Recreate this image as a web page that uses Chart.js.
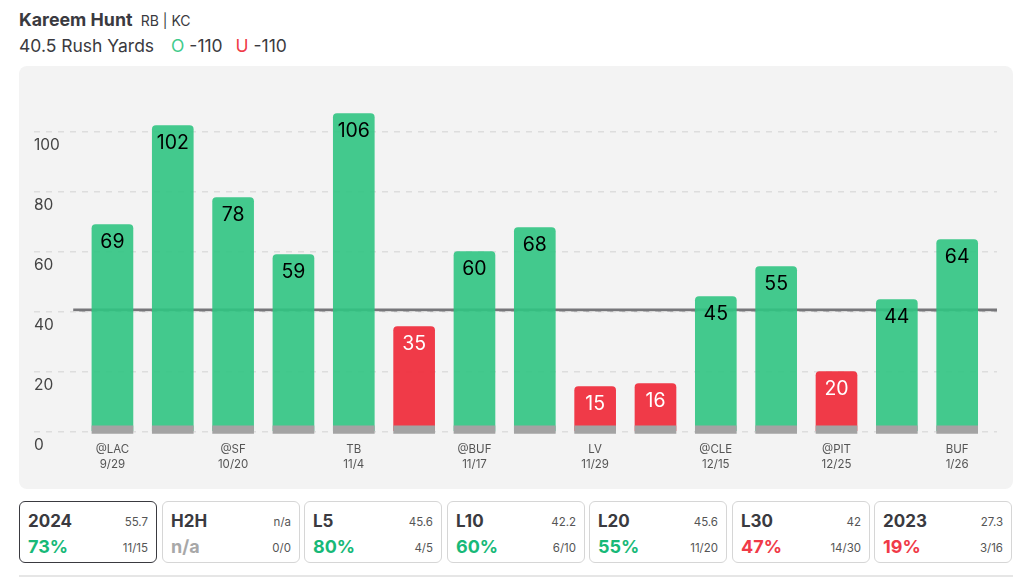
<!DOCTYPE html>
<html lang="en">
<head>
  <meta charset="UTF-8">
  <title>Kareem Hunt Rush Yards</title>
  <style>
    html, body { margin: 0; padding: 0; background: #fff; overflow: hidden; }
    body { width: 1024px; height: 588px; position: relative; font-family: Inter, sans-serif; color: #3a3a40; }
    .name { position: absolute; left: 19px; top: 10px; font-size: 17.8px; font-weight: 700; line-height: 20px; white-space: nowrap; }
    .name span { font-size: 14px; font-weight: 400; margin-left: 4px; }
    .line { position: absolute; left: 19px; top: 35px; font-size: 17.5px; line-height: 21px; white-space: nowrap; }
    .line .o { color: #3fcb8c; margin-left: 12px; }
    .line .u { color: #f03a47; margin-left: 8px; }
    .panel { position: absolute; left: 19px; top: 66px; width: 994px; height: 423px; background: #f3f3f3; border-radius: 8px; }
    .chart { position: absolute; left: 0; top: 66px; width: 1024px; height: 423px; }
    .card { position: absolute; top: 501px; height: 60px; box-sizing: content-box; border: 1.5px solid #d6d6d6; border-radius: 6px; background: #fff; }
    .card.active { border-color: #3a3a40; }
    .card div { position: absolute; white-space: nowrap; }
    .title { left: 8px; top: 8px; font-size: 17px; font-weight: 700; line-height: 22px; }
    .pct { left: 8px; top: 33px; font-size: 18px; font-weight: 700; line-height: 24px; }
    .avg { right: 8px; top: 12px; font-size: 11.5px; line-height: 16px; color: #555; }
    .rec { right: 8px; top: 38px; font-size: 11.5px; line-height: 16px; color: #555; }
    .rule { position: absolute; left: 19px; top: 575px; width: 994px; height: 1.5px; background: #e6e6e6; }
  </style>
</head>
<body>
  <div class="name">Kareem Hunt <span>RB | KC</span></div>
  <div class="line">40.5 Rush Yards <span class="o">O</span> -110 <span class="u">U</span> -110</div>
  <div class="panel"></div>
  <div class="chart"><canvas id="gameChart"></canvas></div>
  <div id="cards"></div>
  <div class="rule"></div>

  <script src="https://cdn.jsdelivr.net/npm/chart.js"></script>
  <script>
    const yards = [69, 102, 78, 59, 106, 35, 60, 68, 15, 16, 45, 55, 20, 44, 64];
    const opponents = ['@LAC', '', '@SF', '', 'TB', '', '@BUF', '', 'LV', '', '@CLE', '', '@PIT', '', 'BUF'];
    const dates = ['9/29', '', '10/20', '', '11/4', '', '11/17', '', '11/29', '', '12/15', '', '12/25', '', '1/26'];
    const yTicks = [0, 20, 40, 60, 80, 100];
    const propLine = 40.5;

    const cardTitles = ['2024', 'H2H', 'L5', 'L10', 'L20', 'L30', '2023'];
    const cardPcts = ['73%', 'n/a', '80%', '60%', '55%', '47%', '19%'];
    const cardAvgs = ['55.7', 'n/a', '45.6', '42.2', '45.6', '42', '27.3'];
    const cardRecords = ['11/15', '0/0', '4/5', '6/10', '11/20', '14/30', '3/16'];
    const cardColors = ['#17b978', '#a8a8a8', '#17b978', '#17b978', '#17b978', '#f03a47', '#f03a47'];
    const cardLefts = [19, 162, 304, 447, 589, 732, 874];

    // Stat cards under the chart
    const cardsEl = document.getElementById('cards');
    cardTitles.forEach((title, i) => {
      cardsEl.innerHTML += `
        <div class="card${i === 0 ? ' active' : ''}" style="left:${cardLefts[i]}px;width:136px">
          <div class="title">${title}</div>
          <div class="avg">${cardAvgs[i]}</div>
          <div class="pct" style="color:${cardColors[i]}">${cardPcts[i]}</div>
          <div class="rec">${cardRecords[i]}</div>
        </div>`;
    });

    // Value text inside each bar
    const barLabels = {
      id: 'barLabels',
      afterDatasetsDraw(chart) {
        const ctx = chart.ctx;
        const bars = chart.getDatasetMeta(0).data;
        ctx.save();
        ctx.font = '19.5px Inter, sans-serif';
        ctx.textAlign = 'center';
        ctx.textBaseline = 'middle';
        bars.forEach((bar, i) => {
          ctx.fillStyle = yards[i] > propLine ? '#000' : '#fff';
          ctx.fillText(yards[i], bar.x, bar.y + 18);
        });
        ctx.restore();
      }
    };

    new Chart(document.getElementById('gameChart'), {
      type: 'bar',
      data: {
        datasets: [
          {
            label: 'Rush Yards',
            data: yards.map((v, i) => ({ x: i, y: v })),
            backgroundColor: yards.map(v => v > propLine ? 'rgba(48,196,130,0.9)' : 'rgba(240,52,66,0.97)'),
            borderRadius: { topLeft: 4, topRight: 4 },
            borderSkipped: false,
            barThickness: 41,
            grouped: false,
            order: 2
          },
          {
            label: 'Base',
            data: yards.map((v, i) => ({ x: i, y: [-0.6, 1.9] })),
            backgroundColor: '#a3a3a3',
            barThickness: 41,
            grouped: false,
            order: 1
          },
          {
            type: 'line',
            label: 'Prop line',
            data: [{ x: -0.65, y: propLine }, { x: 14.66, y: propLine }],
            borderColor: '#77777a',
            borderWidth: 3,
            pointRadius: 0,
            order: 4
          },
          {
            type: 'line',
            label: 'Grid over line',
            data: [{ x: -0.65, y: 40 }, { x: 14.66, y: 40 }],
            borderColor: '#d9d9d9',
            borderWidth: 1,
            borderDash: [6, 6],
            pointRadius: 0,
            order: 3
          }
        ]
      },
      options: {
        responsive: true,
        maintainAspectRatio: false,
        animation: false,
        layout: { padding: { left: 34, right: 27, top: 34, bottom: 0 } },
        plugins: { legend: { display: false }, tooltip: { enabled: false } },
        scales: {
          x: {
            type: 'linear',
            offset: false,
            min: -1.3,
            max: 14.66,
            grid: { display: false },
            border: { display: false },
            afterBuildTicks: scale => { scale.ticks = yards.map((v, i) => ({ value: i })).filter(t => opponents[t.value]); },
            afterFit: scale => { scale.height = 54.5; },
            ticks: {
              autoSkip: false,
              maxRotation: 0,
              padding: 0,
              color: '#555',
              font: { family: 'Inter, sans-serif', size: 11.5, lineHeight: 1.25 },
              callback: value => [opponents[value], dates[value]]
            }
          },
          y: {
            min: -1,
            max: 110.5,
            border: { display: false, dash: [6, 6] },
            grid: { color: '#dddddd', lineWidth: 1.5, drawTicks: false },
            afterBuildTicks: scale => { scale.ticks = yTicks.map(v => ({ value: v })); },
            afterFit: scale => { scale.width = 0; },
            ticks: {
              mirror: true,
              padding: 0,
              labelOffset: 14,
              color: '#444',
              font: { family: 'Inter, sans-serif', size: 15.5 }
            }
          }
        }
      },
      plugins: [barLabels]
    });
  </script>
</body>
</html>
